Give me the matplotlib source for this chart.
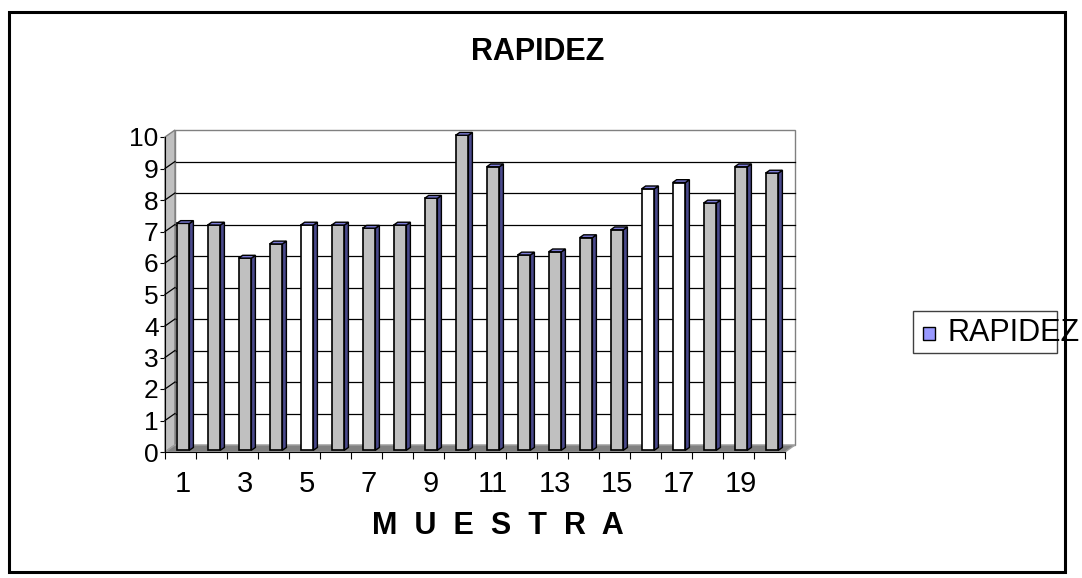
import matplotlib
matplotlib.use("Agg")
import matplotlib.pyplot as plt
from matplotlib.patches import Polygon, Rectangle

plt.rcParams['font.family'] = ['Liberation Sans', 'DejaVu Sans']

# data
muestra = list(range(1, 21))
rapidez = [7.2, 7.15, 6.1, 6.55, 7.15, 7.15, 7.05, 7.15, 8.0, 10.0,
           9.0, 6.2, 6.3, 6.75, 7.0, 8.3, 8.5, 7.85, 9.0, 8.8]
xlabels = [str(m) for m in muestra if m % 2 == 1]
yticks = list(range(0, 11))
serie = "RAPIDEZ"

# style
white_bars = (5, 16, 17)
face = ["white" if m in white_bars else "#C0C0C0" for m in muestra]
side_col = "#4A4A8C"
top_col = "#7B7BD6"

W, H = 1082, 578
fig = plt.figure(figsize=(W / 100, H / 100), dpi=100)

def fx(px):
    return px / W

def fy(py):
    return 1 - py / H

# axes: 31 px per category, 31.5 px per unit
ax = fig.add_axes([134 / W, 110.25 / H, 682 / W, 346.5 / H])
ax.set_xlim(-1, 21)
ax.set_ylim(-0.5, 10.5)
ax.patch.set_visible(False)

n = len(muestra)
DX, DY = 10 / 31, 7 / 31.5      # wall depth
dx, dy = 4 / 31, 2.8 / 31.5     # bar depth
BW = 0.41
b0 = 0.25 * DY

# back wall + grid
ax.add_patch(Rectangle((DX, DY), n, 10, facecolor="white", edgecolor="#808080", lw=1, zorder=1))
for v in yticks[1:-1]:
    ax.plot([DX, n + DX], [v + DY, v + DY], color="black", lw=0.9, zorder=2)
# left wall
ax.add_patch(Polygon([(0, 0), (DX, DY), (DX, 10 + DY), (0, 10)], closed=True,
                     facecolor="#C0C0C0", edgecolor="#808080", lw=1, zorder=2))
for v in yticks[1:-1]:
    ax.plot([0, DX], [v, v + DY], color="black", lw=0.9, zorder=2.5)
# floor
ax.add_patch(Polygon([(0, 0), (n, 0), (n + DX, DY), (DX, DY)], closed=True,
                     facecolor="#808080", edgecolor="#A0A0A0", lw=1, zorder=3))

# bars
x0 = [i + 0.377 for i in range(n)]
ax.bar(x0, rapidez, width=BW, bottom=b0, align="edge", color=face,
       edgecolor="black", lw=1.2, zorder=5)
for x, v in zip(x0, rapidez):
    top = b0 + v
    ax.add_patch(Polygon([(x + BW, b0), (x + BW + dx, b0 + dy), (x + BW + dx, top + dy), (x + BW, top)],
                         closed=True, facecolor=side_col, edgecolor="black", lw=1.0, zorder=4.9))
    ax.add_patch(Polygon([(x, top), (x + BW, top), (x + BW + dx, top + dy), (x + dx, top + dy)],
                         closed=True, facecolor=top_col, edgecolor="black", lw=1.0, zorder=5.1))

# axes lines / ticks
for s in ("top", "right"):
    ax.spines[s].set_visible(False)
ax.spines["left"].set_position(("data", 0))
ax.spines["bottom"].set_position(("data", 0))
ax.spines["left"].set_bounds(0, 10)
ax.spines["bottom"].set_bounds(0, n)
ax.spines["left"].set_zorder(6)
ax.spines["bottom"].set_zorder(6)

ax.set_yticks(yticks)
ax.set_yticklabels([str(v) for v in yticks])
ax.tick_params(axis="y", direction="out", length=3.6, width=0.8, pad=1, labelsize=19)

ax.set_xticks(range(n + 1))
ax.set_xticklabels([])
ax.set_xticks([i + 0.58 for i in range(0, n, 2)], minor=True)
ax.set_xticklabels(xlabels, minor=True)
ax.tick_params(axis="x", which="major", direction="out", length=5, width=0.8)
ax.tick_params(axis="x", which="minor", length=0, pad=13, labelsize=21)

# title and axis title
fig.text(fx(538), fy(52), serie, ha="center", va="center", fontsize=22, fontweight="bold")
fig.text(fx(498), fy(526), "M  U  E  S  T  R  A", ha="center", va="center",
         fontsize=22, fontweight="bold")

# legend
fig.patches.append(Rectangle((fx(913), fy(353)), (1057 - 913) / W, (353 - 311) / H,
                             transform=fig.transFigure, facecolor="white",
                             edgecolor="#404040", lw=1, zorder=1))
fig.patches.append(Rectangle((fx(923), fy(340)), 12 / W, 13 / H,
                             transform=fig.transFigure, facecolor="#9999FF",
                             edgecolor="black", lw=1, zorder=2))
fig.text(fx(947), fy(333), serie, ha="left", va="center", fontsize=22, zorder=3)

# outer border
fig.patches.append(Rectangle((fx(9), fy(572)), (1065 - 9) / W, (572 - 12) / H,
                             transform=fig.transFigure, fill=False,
                             edgecolor="black", lw=2.2, zorder=4))

fig.savefig("out.png", dpi=100)
